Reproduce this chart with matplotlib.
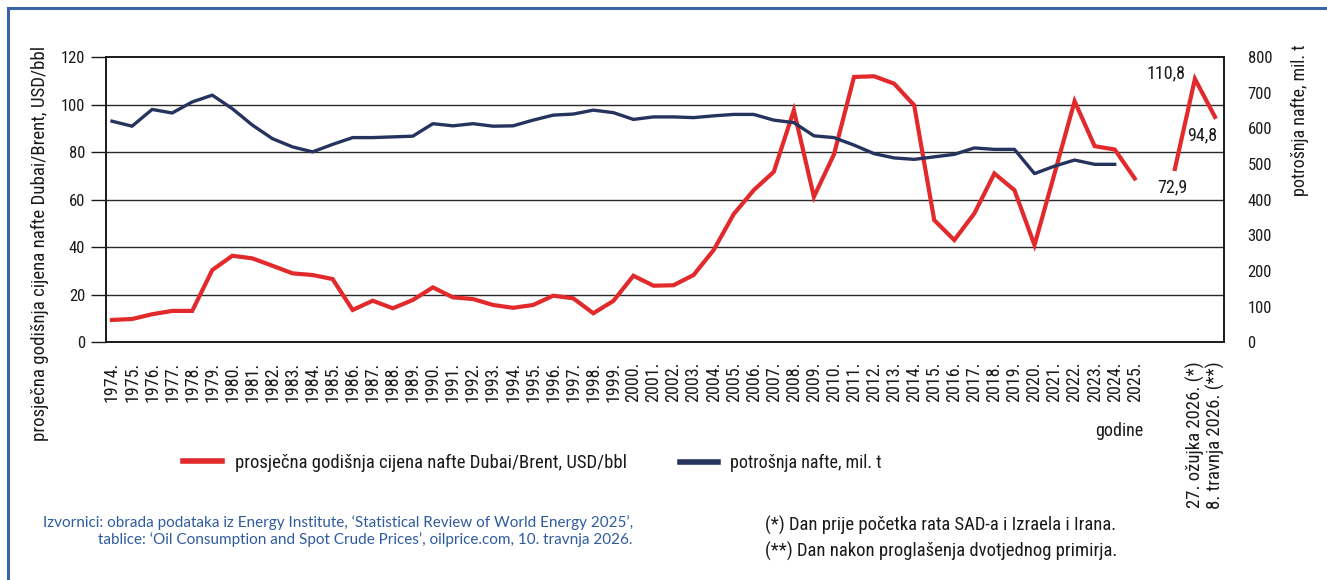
import matplotlib
matplotlib.use("Agg")
import matplotlib.pyplot as plt
from matplotlib import font_manager as fm
from matplotlib.lines import Line2D
import numpy as np

# ---------------- data ----------------
years = list(range(1974, 2026))
categories = [f"{y}." for y in years] + ["", "", "27. ožujka 2026. (*)", "8. travnja 2026. (**)"]

price = [9.4, 9.8, 11.8, 13.2, 13.2, 30.4, 36.4, 35.3, 32.2, 29.0,
         28.3, 26.6, 13.6, 17.5, 14.3, 17.8, 23.1, 18.9, 18.2, 15.7,
         14.5, 15.7, 19.6, 18.5, 12.2, 17.4, 28.0, 23.8, 24.0, 28.3,
         38.8, 53.9, 64.0, 71.7, 97.6, 61.2, 79.0, 111.6, 111.9, 108.8,
         99.7, 51.4, 43.0, 54.2, 71.0, 64.0, 40.9, 71.0, 101.4, 82.5,
         81.1, 68.9, None, 72.9, 110.8, 94.8]

consumption = [620, 606, 653, 643, 674, 693, 655, 609, 571, 548,
               534, 555, 574, 574, 576, 578, 613, 607, 613, 606,
               607, 623, 637, 640, 651, 644, 625, 632, 632, 630,
               635, 639, 639, 623, 616, 579, 574, 553, 529, 517,
               513, 520, 527, 545, 541, 541, 473, 494, 511, 499,
               499, None, None, None, None, None]

annot_idx = [54, 55, 53]
annot_txt = ["110,8", "94,8", "72,9"]
annot_off = [(-7, 4), (1.5, -13), (9, -13)]

left_ticks = [0, 20, 40, 60, 80, 100, 120]
right_ticks = [0, 100, 200, 300, 400, 500, 600, 700, 800]

# ---------------- style ----------------
names = {f.name for f in fm.fontManager.ttflist}
COND = next((n for n in ["Roboto Condensed", "Liberation Sans Narrow", "DejaVu Sans Condensed"]
             if n in names), "Liberation Sans")
plt.rcParams["font.family"] = [COND, "DejaVu Sans"]
SRC_FONT = next((n for n in ["Lato", "Open Sans"] if n in names), "DejaVu Sans")

RED = "#e2292b"
NAVY = "#26335e"
BLUE = "#3a64a8"
TXT = "#1a1a1a"

W, H = 1327, 580
fig = plt.figure(figsize=(W / 100, H / 100), dpi=100)
ax = fig.add_axes([106 / W, 1 - 342.3 / H, (1224 - 106) / W, (342.3 - 57) / H])
ax2 = ax.twinx()

x = np.arange(len(categories))
p = np.array([np.nan if v is None else v for v in price], dtype=float)
c = np.array([np.nan if v is None else v for v in consumption], dtype=float)

ax.plot(x, p, color=RED, lw=3.0, solid_joinstyle="miter", zorder=3,
        label="prosječna godišnja cijena nafte Dubai/Brent, USD/bbl")
ax2.plot(x, c, color=NAVY, lw=2.4, zorder=3, label="potrošnja nafte, mil. t")

ax.set_xlim(-0.3, 55.45)
ax.set_ylim(0, 120)
ax2.set_ylim(0, 800)
ax.set_yticks(left_ticks)
ax2.set_yticks(right_ticks)
ax.set_xticks(x)
ax.set_xticklabels(categories, rotation=90, va="top", ha="center", fontsize=13, color=TXT)
for lbl in ax.get_xticklabels()[-2:]:
    lbl.set_fontsize(13.5)
ax.tick_params(axis="x", length=0, pad=14)
ax.tick_params(axis="y", length=11, width=1.0, pad=4, labelsize=12, colors=TXT)
ax2.tick_params(axis="y", length=0, pad=17, labelsize=12, colors=TXT)

for v in left_ticks[1:-1]:
    ax.axhline(v, color="#2a2a2a", lw=1.0, zorder=1)
for a in (ax, ax2):
    for s in a.spines.values():
        s.set_color("#1a1a1a")
        s.set_linewidth(1.2)

for i, t, off in zip(annot_idx, annot_txt, annot_off):
    ax.annotate(t, xy=(x[i], p[i]), xytext=off, textcoords="offset points",
                ha="right", va="center", fontsize=13, color=TXT)

# axis titles
fig.text(40 / W, 1 - 243 / H, "prosječna godišnja cijena nafte Dubai/Brent, USD/bbl",
         rotation=90, ha="center", va="center", fontsize=13.6, color=TXT)
fig.text(1300 / W, 1 - 120 / H, "potrošnja nafte, mil. t",
         rotation=90, ha="center", va="center", fontsize=13, color=TXT)
fig.text(1143 / W, 1 - 431 / H, "godine", ha="right", va="center", fontsize=13, color=TXT)

# legend (two entries placed separately)
h1, l1 = ax.get_legend_handles_labels()
h2, l2 = ax2.get_legend_handles_labels()
leg_kw = dict(frameon=False, borderpad=0, borderaxespad=0, handlelength=2.1,
              handletextpad=0.65, loc="center left")
lg1 = fig.legend(h1, l1, bbox_to_anchor=(183 / W, 1 - 463 / H), fontsize=13.5, **leg_kw)
lg2 = fig.legend(h2, l2, bbox_to_anchor=(680 / W, 1 - 463 / H), fontsize=13, **leg_kw)
for lg in (lg1, lg2):
    for t in lg.get_texts():
        t.set_color(TXT)
    for ln in lg.get_lines():
        ln.set_linewidth(4)

# sources
fig.text(633 / W, 1 - 531 / H,
         "Izvornici: obrada podataka iz Energy Institute, ‘Statistical Review of World Energy 2025’,\n"
         "tablice: ‘Oil Consumption and Spot Crude Prices’, oilprice.com, 10. travnja 2026.",
         ha="right", va="center", fontsize=11, color="#2f5b9e", family=[SRC_FONT, "DejaVu Sans"],
         multialignment="right", linespacing=1.2)
fig.text(765 / W, 1 - 525 / H, "(*) Dan prije početka rata SAD-a i Izraela i Irana.",
         ha="left", va="center", fontsize=13.4, color=TXT)
fig.text(765 / W, 1 - 551 / H, "(**) Dan nakon proglašenja dvotjednog primirja.",
         ha="left", va="center", fontsize=13.4, color=TXT)

# blue frame (top and left)
fig.add_artist(Line2D([8 / W, 1], [1 - 8 / H, 1 - 8 / H], transform=fig.transFigure,
                      color=BLUE, lw=2.2))
fig.add_artist(Line2D([8 / W, 8 / W], [0, 1 - 8 / H], transform=fig.transFigure,
                      color=BLUE, lw=2.2))

fig.savefig("out.png", dpi=100, facecolor="white")
